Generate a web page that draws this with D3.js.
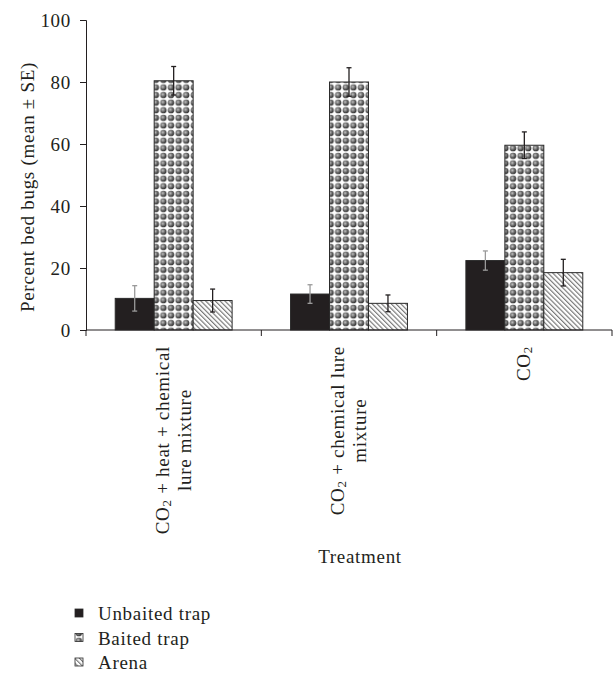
<!DOCTYPE html>
<html>
<head>
<meta charset="utf-8">
<script src="https://cdn.jsdelivr.net/npm/d3@7"></script>
<style>
  body { margin: 0; background: #fff; }
  svg text { font-family: "Liberation Serif", "Times New Roman", serif; fill: #231f20; letter-spacing: 0.7px; }
</style>
</head>
<body>
<svg id="chart" width="613" height="676"></svg>
<script>
// treatments (x-axis groups), label lines; "CO2" gets a subscript 2
const categories = ["heat", "lure", "co2"];
const categoryLines = [
  ["CO2 + heat + chemical", "lure mixture"],
  ["CO2 + chemical lure", "mixture"],
  ["CO2"]
];
const series = ["Unbaited trap", "Baited trap", "Arena"];

// percent bed bugs, mean and SE, per series (order follows categories)
const unbaitedMean = [10.2, 11.6, 22.4];
const unbaitedSE = [4.1, 3.0, 3.1];
const baitedMean = [80.4, 80.0, 59.6];
const baitedSE = [4.6, 4.6, 4.3];
const arenaMean = [9.5, 8.6, 18.5];
const arenaSE = [3.7, 2.7, 4.3];

const yTicks = [0, 20, 40, 60, 80, 100];

const means = [unbaitedMean, baitedMean, arenaMean];
const ses = [unbaitedSE, baitedSE, arenaSE];

const svg = d3.select("#chart");
const ink = "#231f20";

// patterns
const defs = svg.append("defs");

const grad = defs.append("radialGradient").attr("id", "ball")
  .attr("cx", "40%").attr("cy", "40%").attr("r", "60%");
grad.append("stop").attr("offset", "0%").attr("stop-color", "#c4c4c4");
grad.append("stop").attr("offset", "55%").attr("stop-color", "#6a6a6a");
grad.append("stop").attr("offset", "100%").attr("stop-color", "#2c2c2c");

const dots = defs.append("pattern").attr("id", "dots")
  .attr("patternUnits", "userSpaceOnUse")
  .attr("width", 7.6).attr("height", 7.6);
dots.append("rect").attr("width", 7.6).attr("height", 7.6).attr("fill", "#fff");
dots.append("circle").attr("cx", 3.8).attr("cy", 3.8).attr("r", 3.2).attr("fill", "url(#ball)");

const hatch = defs.append("pattern").attr("id", "hatch")
  .attr("patternUnits", "userSpaceOnUse")
  .attr("width", 3.4).attr("height", 3.4)
  .attr("patternTransform", "rotate(-45)");
hatch.append("rect").attr("width", 3.4).attr("height", 3.4).attr("fill", "#fff");
hatch.append("line").attr("x1", 0.6).attr("x2", 0.6).attr("y1", 0).attr("y2", 3.4)
  .attr("stroke", "#707070").attr("stroke-width", 1.1);

const fills = ["#231f20", "url(#dots)", "url(#hatch)"];
const errColor = ["#9a9a9a", ink, ink];

// scales
const mLeft = 86, mRight = 612, mTop = 20, mBottom = 330;
const x0 = d3.scaleBand().domain(categories).range([mLeft, mRight]).padding(0);
const x1 = d3.scaleBand().domain(series).range([0, x0.bandwidth()])
  .paddingInner(0).paddingOuter(0.75);
const y = d3.scaleLinear().domain([0, 100]).range([mBottom, mTop]);

// y axis
const yAxis = svg.append("g")
  .attr("transform", `translate(${mLeft},0)`)
  .call(d3.axisLeft(y).tickValues(yTicks).tickSize(6).tickPadding(9));
yAxis.select(".domain").attr("stroke", ink);
yAxis.selectAll(".tick line").attr("stroke", ink);
yAxis.selectAll(".tick text")
  .attr("font-size", 19).attr("fill", ink)
  .style("font-family", "'Liberation Serif', serif");

// bars
const rows = [];
categories.forEach((c, ci) => {
  series.forEach((s, si) => {
    rows.push({ c, s, si, v: means[si][ci], e: ses[si][ci] });
  });
});

svg.append("g").selectAll("rect")
  .data(rows)
  .join("rect")
  .attr("x", d => x0(d.c) + x1(d.s))
  .attr("y", d => y(d.v))
  .attr("width", x1.bandwidth())
  .attr("height", d => y(0) - y(d.v))
  .attr("fill", d => fills[d.si])
  .attr("stroke", "#2a2a2a")
  .attr("stroke-width", 1);

// error bars
const cap = 2.5;
const eb = svg.append("g").selectAll("g")
  .data(rows)
  .join("g")
  .attr("stroke", d => errColor[d.si])
  .attr("stroke-width", 1.3);
eb.append("line")
  .attr("x1", d => x0(d.c) + x1(d.s) + x1.bandwidth() / 2)
  .attr("x2", d => x0(d.c) + x1(d.s) + x1.bandwidth() / 2)
  .attr("y1", d => y(d.v + d.e))
  .attr("y2", d => y(d.v - d.e));
[1, -1].forEach(sign => {
  eb.append("line")
    .attr("x1", d => x0(d.c) + x1(d.s) + x1.bandwidth() / 2 - cap)
    .attr("x2", d => x0(d.c) + x1(d.s) + x1.bandwidth() / 2 + cap)
    .attr("y1", d => y(d.v + sign * d.e))
    .attr("y2", d => y(d.v + sign * d.e));
});

// x axis with ticks at group boundaries
const xg = svg.append("g");
xg.append("line")
  .attr("x1", mLeft).attr("x2", mRight)
  .attr("y1", mBottom).attr("y2", mBottom)
  .attr("stroke", ink);
const bounds = categories.map(c => x0(c)).concat([x0(categories[categories.length - 1]) + x0.bandwidth()]);
xg.selectAll("line.tk")
  .data(bounds)
  .join("line")
  .attr("class", "tk")
  .attr("x1", d => d).attr("x2", d => d)
  .attr("y1", mBottom).attr("y2", mBottom + 6)
  .attr("stroke", ink);

// rotated category labels
const lineGap = 22;
const labelTop = 346;
categories.forEach((c, ci) => {
  const lines = categoryLines[ci];
  const cx = x0(c) + x0.bandwidth() / 2;
  const n = lines.length;
  const texts = lines.map((ln, i) => {
    const t = svg.append("text")
      .attr("font-size", 19)
      .attr("text-anchor", "middle");
    if (ln.startsWith("CO2")) {
      t.append("tspan").text("CO");
      t.append("tspan").text("2").attr("font-size", 13).attr("dy", 2);
      t.append("tspan").text(ln.slice(3)).attr("dy", -2);
    } else {
      t.text(ln);
    }
    return { t, i };
  });
  const maxLen = d3.max(texts, d => d.t.node().getComputedTextLength());
  const midY = labelTop + maxLen / 2;
  texts.forEach(({ t, i }) => {
    const bx = cx + (i - (n - 1) / 2) * lineGap + 6;
    t.attr("transform", `translate(${bx},${midY}) rotate(-90)`);
  });
});

// axis titles
svg.append("text")
  .attr("transform", "translate(34,187) rotate(-90)")
  .attr("text-anchor", "middle")
  .attr("font-size", 19)
  .text("Percent bed bugs (mean ± SE)");

svg.append("text")
  .attr("x", 360).attr("y", 563)
  .attr("text-anchor", "middle")
  .attr("font-size", 19)
  .text("Treatment");

// legend
const legend = svg.append("g").selectAll("g")
  .data(series)
  .join("g")
  .attr("transform", (d, i) => `translate(75,${620 + i * 24.5})`);
legend.append("rect")
  .attr("x", 0).attr("y", -11)
  .attr("width", 8).attr("height", 8)
  .attr("fill", (d, i) => fills[i])
  .attr("stroke", "#2a2a2a").attr("stroke-width", 0.8);
legend.append("text")
  .attr("x", 23).attr("y", 0)
  .attr("font-size", 19)
  .text(d => d);
</script>
</body>
</html>
